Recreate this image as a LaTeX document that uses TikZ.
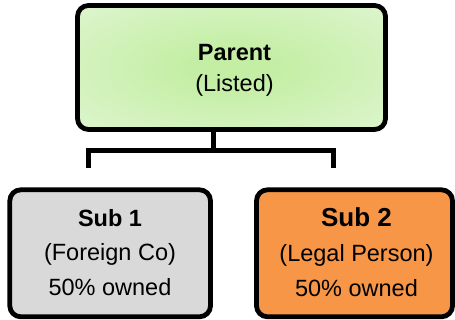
\documentclass[tikz,border=0pt]{standalone}
\usepackage{fontspec}
\setmainfont{Liberation Sans}
\definecolor{leafmid}{HTML}{C3EEA3}
\definecolor{leafrim}{HTML}{EAF8E2}
\definecolor{subgray}{HTML}{D9D9D9}
\definecolor{suborange}{HTML}{F79646}
% soft glow fading from the middle of the box to its rim
\pgfdeclareradialshading{leafglow}{\pgfpoint{0bp}{0bp}}{%
  color(0bp)=(leafmid); color(8bp)=(leafmid!96!leafrim);
  color(50bp)=(leafrim); color(72bp)=(leafrim)}
\begin{document}
\begin{tikzpicture}[x=1pt,y=-1pt,
  box/.style={draw=black,line width=4.8pt,rounded corners=11pt,inner sep=0pt},
  conn/.style={draw=black,line width=4.7pt,line join=miter},
  txt/.style={anchor=base,inner sep=0pt,font=\fontsize{23.5}{28}\selectfont},
  bold/.style={txt,font=\fontsize{23.5}{28}\selectfont\bfseries},
  big/.style={txt,font=\fontsize{26}{31}\selectfont\bfseries}]
\useasboundingbox (0,0) rectangle (455,320);

% boxes
\path[box,shading=leafglow]
  (77.5,5.5) rectangle (385.5,129.5);
\node[box,fill=subgray,minimum width=200.7pt,minimum height=127pt]
  (sub1) at (110.15,253.3) {};
\node[box,fill=suborange,minimum width=196pt,minimum height=127pt]
  (sub2) at (354.5,253.3) {};
\coordinate (parentbottom) at (213.3,129.5);

% labels
\node[bold] (ptitle) at (234.5,61) {Parent};
\node[txt] (pnote) at (234.5,92) {(Listed)};
\node[bold] (s1title) at (110,226.7) {Sub 1};
\node[txt] (s1note) at (110,260.5) {(Foreign Co)};
\node[txt] (s1share) at (110,295.5) {50\% owned};
\node[big] (s2title) at (356.5,226.7) {Sub 2};
\node[txt] (s2note) at (356.5,261.5) {(Legal Person)};
\node[txt] (s2share) at (356.5,296.5) {50\% owned};

% ownership bracket
\coordinate (fork) at (213.3,150.2);
\coordinate (leftfoot) at (88.3,168.3);
\coordinate (rightfoot) at (333.8,168.3);
\draw[conn] (parentbottom) -- (fork);
\draw[conn] (leftfoot) |- (fork) -| (rightfoot);
\end{tikzpicture}
\end{document}
